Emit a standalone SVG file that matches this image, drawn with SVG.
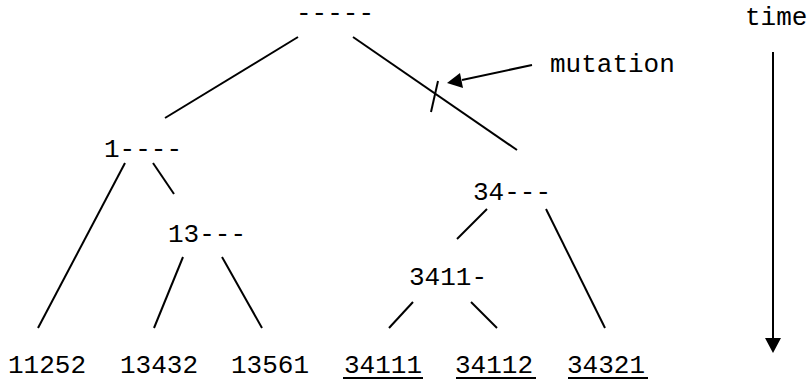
<svg xmlns="http://www.w3.org/2000/svg" width="810" height="381" viewBox="0 0 810 381">
<style>
text{font-family:"Liberation Mono","Courier New",monospace;font-size:26px;fill:#000}
.l{stroke:#000;stroke-width:2;fill:none}
.u{stroke:#000;stroke-width:2}
</style>
<defs>
<marker id="ah" markerWidth="10" markerHeight="10" refX="9" refY="5" orient="auto" markerUnits="userSpaceOnUse" viewBox="0 0 10 10">
<path d="M0,0 L10,5 L0,10 z" fill="#000"/>
</marker>
</defs>
<rect width="810" height="381" fill="#fff"/>
<g id="connectors">
<line class="l" x1="298" y1="37" x2="165" y2="118"/>
<line class="l" x1="353" y1="37" x2="517" y2="150"/>
<line class="l" x1="438" y1="81" x2="431" y2="112"/>
<line class="l" x1="532" y1="65" x2="462" y2="80"/>
<path d="M447,83 L460,73 L463,88 z" fill="#000"/>
<line class="l" x1="125" y1="163" x2="38" y2="328"/>
<line class="l" x1="153" y1="163" x2="174" y2="194"/>
<line class="l" x1="183" y1="257" x2="154" y2="328"/>
<line class="l" x1="222" y1="257" x2="262" y2="328"/>
<line class="l" x1="487" y1="209" x2="457" y2="239"/>
<line class="l" x1="546" y1="209" x2="605" y2="328"/>
<line class="l" x1="413" y1="302" x2="389" y2="328"/>
<line class="l" x1="471" y1="302" x2="497" y2="328"/>
<line class="l" x1="773" y1="52" x2="773" y2="340"/>
<path d="M765,338 L781,338 L773,353 z" fill="#000"/>
</g>
<g id="root"><text x="296" y="21">-----</text></g>
<g id="n1"><text x="104" y="157">1----</text></g>
<g id="n13"><text x="168" y="242">13---</text></g>
<g id="n34"><text x="473" y="200">34---</text></g>
<g id="n3411"><text x="409" y="285">3411-</text></g>
<g id="l11252"><text x="8" y="373">11252</text></g>
<g id="l13432"><text x="120" y="373">13432</text></g>
<g id="l13561"><text x="231" y="373">13561</text></g>
<g id="l34111"><text x="344" y="373">34111</text><line class="u" x1="343" y1="378" x2="423" y2="378"/></g>
<g id="l34112"><text x="455" y="373">34112</text><line class="u" x1="456" y1="378" x2="536" y2="378"/></g>
<g id="l34321"><text x="567" y="373">34321</text><line class="u" x1="568" y1="378" x2="648" y2="378"/></g>
<g id="mutation"><text x="550" y="72">mutation</text></g>
<g id="time"><text x="745" y="25">time</text></g>
</svg>
